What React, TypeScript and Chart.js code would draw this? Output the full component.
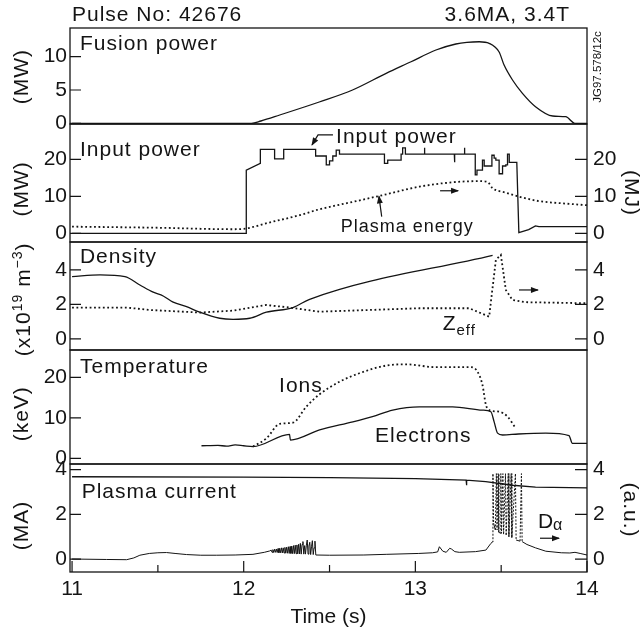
import React, { useEffect, useRef } from "react";
import { Chart, registerables } from "chart.js";

Chart.register(...registerables);

const FONT = "'Liberation Sans', Arial, Helvetica, sans-serif";
const INK = "#141414";

// ---- Pulse 42676 signals (time in s) ----
const fusionTime = [11.0, 12.045, 12.1, 12.21, 12.44, 12.634, 12.83, 12.975, 13.12, 13.236, 13.3, 13.372, 13.43, 13.488, 13.517, 13.566, 13.624, 13.7, 13.8, 13.876, 13.93, 14.0];
const fusionPower = [0, 0, 0.35, 1.25, 3.2, 5.0, 7.5, 9.24, 11.0, 11.9, 12.15, 12.24, 12.0, 10.7, 8.74, 6.5, 4.5, 2.5, 1.1, 1.0, 0, 0];

const inputTime = [
  11.0, 12.015, 12.015, 12.097, 12.097, 12.18, 12.18, 12.233, 12.233, 12.419,
  12.419, 12.481, 12.481, 12.5, 12.5, 12.519, 12.519, 12.539, 12.539, 12.558,
  12.558, 12.82, 12.82, 12.839, 12.839, 12.917, 12.917, 12.926, 12.926, 12.942,
  12.942, 13.052, 13.052, 13.055, 13.055, 13.227, 13.227, 13.23, 13.23, 13.285,
  13.285, 13.288, 13.288, 13.349, 13.349, 13.359, 13.359, 13.391, 13.391, 13.401,
  13.401, 13.446, 13.446, 13.459, 13.459, 13.469, 13.469, 13.488, 13.488, 13.508,
  13.508, 13.527, 13.527, 13.537, 13.537, 13.547, 13.547, 13.591, 13.603, 13.66,
  13.7, 13.72, 14.0,
];
const inputPower = [
  0, 0, 17.1, 18.9, 22.7, 22.7, 20.1, 20.1, 22.7, 22.7,
  20.9, 20.9, 18.5, 18.5, 19.6, 19.6, 20.9, 20.9, 22.5, 22.5,
  21.4, 21.4, 18.9, 18.9, 19.8, 19.8, 21.4, 21.4, 23.1, 23.1,
  21.4, 21.4, 23.1, 23.1, 21.4, 21.4, 19.2, 19.2, 21.4, 21.4,
  23.1, 23.1, 21.4, 21.4, 15.8, 15.8, 17.1, 17.1, 19.8, 19.8,
  18.2, 18.2, 21.1, 21.1, 20.3, 20.3, 19.8, 19.8, 16.1, 16.1,
  18.2, 18.2, 18.5, 18.5, 21.4, 21.4, 19.2, 19.2, 0.2, 1.0,
  2.0, 1.8, 1.8,
];

const energyTime = [11.0, 11.5, 11.94, 12.015, 12.13, 12.326, 12.442, 12.636, 12.79, 13.023, 13.217, 13.372, 13.42, 13.45, 13.527, 13.605, 13.721, 13.857, 14.0];
const plasmaEnergy = [1.8, 1.5, 1.1, 1.3, 2.7, 4.9, 6.5, 8.5, 10.1, 12.6, 13.8, 14.1, 13.9, 12.2, 11.0, 9.9, 8.7, 8.1, 7.6];

const densityTime = [11.0, 11.163, 11.308, 11.395, 11.473, 11.531, 11.589, 11.667, 11.744, 11.86, 11.938, 12.035, 12.132, 12.287, 12.384, 13.45];
const density = [3.61, 3.71, 3.61, 3.13, 2.71, 2.49, 2.13, 1.87, 1.55, 1.2, 1.14, 1.2, 1.55, 1.82, 2.3, 4.85];

const zeffTime = [11.0, 11.318, 11.453, 11.744, 11.938, 12.132, 12.267, 12.442, 13.023, 13.314, 13.43, 13.469, 13.498, 13.508, 13.527, 13.566, 13.643, 14.0];
const zeff = [1.82, 1.82, 1.68, 1.53, 1.64, 1.97, 1.82, 1.58, 1.78, 1.78, 1.29, 4.58, 4.87, 4.19, 2.84, 2.26, 2.13, 2.07];

const electronTime = [11.754, 11.85, 11.9, 11.95, 12.0, 12.054, 12.267, 12.272, 12.442, 12.636, 12.75, 12.868, 13.023, 13.217, 13.391, 13.44, 13.459, 13.479, 13.508, 13.6, 13.76, 13.895, 13.915, 14.0];
const electronTemp = [3.1, 3.2, 3.0, 3.3, 3.1, 2.9, 5.9, 4.5, 7.0, 9.0, 10.3, 11.9, 12.7, 12.7, 11.9, 11.5, 9.0, 6.2, 5.75, 6.0, 6.2, 5.6, 3.7, 3.7];

const ionTime = [12.054, 12.132, 12.209, 12.287, 12.364, 12.442, 12.558, 12.674, 12.83, 12.946, 13.12, 13.324, 13.362, 13.391, 13.411, 13.43, 13.488, 13.537, 13.585];
const ionTemp = [2.9, 4.9, 8.5, 8.8, 12.7, 15.8, 18.9, 21.0, 22.9, 23.2, 22.5, 22.5, 21.4, 18.1, 13.2, 11.9, 11.5, 10.3, 7.4];

const currentTime = [11.0, 12.0, 12.5, 13.0, 13.296, 13.297, 13.299, 13.3, 13.41, 13.566, 13.7, 14.0];
const plasmaCurrent = [3.68, 3.66, 3.64, 3.6, 3.53, 3.3, 3.3, 3.53, 3.46, 3.3, 3.22, 3.18];

const dalphaTime = [
  11.0, 11.2, 11.318, 11.36, 11.395, 11.45, 11.5, 11.55, 11.6, 11.667, 11.75, 11.84, 11.95, 12.054, 12.12, 12.151,
  12.16, 12.165, 12.17, 12.175, 12.18, 12.185, 12.19, 12.195, 12.2, 12.205, 12.21, 12.215, 12.22, 12.225, 12.23, 12.235,
  12.24, 12.245, 12.25, 12.255, 12.26, 12.265, 12.27, 12.275, 12.28, 12.285, 12.29, 12.295, 12.3, 12.305, 12.31, 12.315,
  12.32, 12.325, 12.33, 12.335, 12.34, 12.345, 12.35, 12.355, 12.36, 12.365, 12.37, 12.375, 12.38, 12.385, 12.39, 12.395,
  12.4, 12.405, 12.41, 12.415, 12.42,
  12.5, 12.7, 12.83, 13.02, 13.1, 13.13, 13.14, 13.16, 13.18, 13.2, 13.21, 13.23, 13.256, 13.35, 13.411, 13.44, 13.448,
  13.452, 13.456, 13.466, 13.472, 13.476, 13.482, 13.486, 13.496, 13.498, 13.502, 13.51, 13.514, 13.525, 13.529, 13.541, 13.545, 13.558, 13.562, 13.583, 13.587, 13.61, 13.618, 13.622,
  13.65, 13.7, 13.76, 13.85, 13.9, 13.93, 13.96, 14.0,
];
const dalpha = [
  0.0, -0.02, -0.03, 0.05, 0.17, 0.25, 0.28, 0.29, 0.25, 0.2, 0.17, 0.17, 0.18, 0.21, 0.3, 0.36,
  0.4, 0.3, 0.42, 0.29, 0.44, 0.3, 0.45, 0.29, 0.47, 0.28, 0.48, 0.28, 0.5, 0.27, 0.5, 0.27,
  0.52, 0.26, 0.53, 0.26, 0.55, 0.25, 0.56, 0.25, 0.58, 0.24, 0.6, 0.24, 0.62, 0.24, 0.63, 0.23,
  0.66, 0.23, 0.7, 0.22, 0.65, 0.78, 0.22, 0.6, 0.22, 0.62, 0.85, 0.22, 0.58, 0.75, 0.2, 0.55,
  0.82, 0.2, 0.5, 0.8, 0.18,
  0.17, 0.18, 0.21, 0.25, 0.28, 0.32, 0.55, 0.35, 0.3, 0.48, 0.45, 0.33, 0.3, 0.33, 0.4, 0.7, 0.76,
  3.82, 1.6, 1.3, 3.82, 1.3, 3.82, 1.2, 1.15, 3.82, 1.15, 3.82, 1.1, 3.82, 1.05, 3.82, 1.0, 3.82, 0.95, 3.82, 0.85, 0.8, 3.82, 0.78,
  0.65, 0.5, 0.35, 0.28, 0.27, 0.3, 0.25, 0.18,
];

// ---- Tick values ----
const fusionTicks = [0, 5, 10];
const powerTicks = [0, 10, 20];
const energyTicks = [0, 10, 20];
const densityTicks = [0, 2, 4];
const zeffTicks = [0, 2, 4];
const tempTicks = [0, 10, 20];
const currentTicks = [0, 2, 4];
const dalphaTicks = [0, 2, 4];
const timeTicks = [11, 12, 13, 14];
const timeMinorTicks = [11.5, 12.5, 13.5];

type Panel = {
  left: string;
  right: string;
  min: number;
  max: number;
  height: number;
  ticks: number[];
  rightTicks: number[] | null;
  title: string;
  titleAt: number;
};

const panels: Panel[] = [
  { left: "yFus", right: "rFus", min: -0.1, max: 14.3, height: 96, ticks: fusionTicks, rightTicks: null, title: "(MW)", titleAt: 7 },
  { left: "yPow", right: "rPow", min: -2.35, max: 29.55, height: 118, ticks: powerTicks, rightTicks: energyTicks, title: "(MW)", titleAt: 12 },
  { left: "yDen", right: "rDen", min: -0.64, max: 5.62, height: 108, ticks: densityTicks, rightTicks: zeffTicks, title: "", titleAt: 2.3 },
  { left: "yTem", right: "rTem", min: -1.41, max: 26.74, height: 114, ticks: tempTicks, rightTicks: null, title: "(keV)", titleAt: 11 },
  { left: "yCur", right: "rCur", min: -0.58, max: 4.25, height: 108, ticks: currentTicks, rightTicks: dalphaTicks, title: "(MA)", titleAt: 1.5 },
];

function series(xs: number[], ys: number[], yAxisID: string, dotted: boolean, smooth: boolean, width = 1.3) {
  return {
    data: xs.map((x, i) => ({ x, y: ys[i] })),
    xAxisID: "x",
    yAxisID,
    borderColor: INK,
    borderWidth: dotted ? 1.8 : width,
    borderDash: dotted ? [1.8, 2.6] : [],
    pointRadius: 0,
    fill: false,
    tension: 0,
    cubicInterpolationMode: smooth ? "monotone" : "default",
  };
}

// D-alpha trace: the tall ELM spikes are drawn finely dotted
function dalphaSeries() {
  const s: any = series(dalphaTime, dalpha, "rCur", false, false, 1);
  s.segment = {
    borderDash: (c: any) => (Math.abs(c.p1.parsed.y - c.p0.parsed.y) > 1 ? [2, 1.5] : undefined),
  };
  return s;
}

const decorations = {
  id: "decorations",
  afterDraw(chart: any) {
    const { ctx, chartArea: a, scales } = chart;
    const px = (t: number) => scales.x.getPixelForValue(t);
    const py = (id: string, v: number) => scales[id].getPixelForValue(v);

    ctx.save();
    ctx.strokeStyle = INK;
    ctx.fillStyle = INK;

    // panel frames
    ctx.lineWidth = 1.3;
    for (const p of panels) {
      const s = scales[p.left];
      ctx.strokeRect(a.left, s.top, a.right - a.left, s.bottom - s.top);
    }

    // inward tick marks
    ctx.lineWidth = 1.2;
    ctx.beginPath();
    for (const p of panels) {
      for (const v of p.ticks) {
        const y = py(p.left, v);
        ctx.moveTo(a.left, y);
        ctx.lineTo(a.left + 11, y);
      }
      if (p.rightTicks) {
        for (const v of p.rightTicks) {
          const y = py(p.right, v);
          ctx.moveTo(a.right - 12, y);
          ctx.lineTo(a.right, y);
        }
      }
    }
    for (const t of timeTicks) {
      const x = px(t);
      ctx.moveTo(x, a.bottom);
      ctx.lineTo(x, a.bottom - 11);
    }
    for (const t of timeMinorTicks) {
      const x = px(t);
      ctx.moveTo(x, a.bottom);
      ctx.lineTo(x, a.bottom - 7);
    }
    ctx.stroke();

    const text = (str: string, x: number, y: number, size = 21, align: CanvasTextAlign = "left") => {
      ctx.font = `${size}px ${FONT}`;
      (ctx as any).letterSpacing = "1px";
      ctx.textAlign = align;
      ctx.textBaseline = "alphabetic";
      ctx.fillText(str, x, y);
      return ctx.measureText(str).width;
    };
    const rotated = (str: string, x: number, y: number, angle: number, size = 21, spacing = "1px") => {
      ctx.save();
      ctx.translate(x, y);
      ctx.rotate(angle);
      ctx.font = `${size}px ${FONT}`;
      (ctx as any).letterSpacing = spacing;
      ctx.textAlign = "center";
      ctx.textBaseline = "middle";
      ctx.fillText(str, 0, 0);
      ctx.restore();
    };
    const arrow = (pts: [number, number][]) => {
      ctx.lineWidth = 1.2;
      ctx.beginPath();
      ctx.moveTo(pts[0][0], pts[0][1]);
      for (let i = 1; i < pts.length; i++) ctx.lineTo(pts[i][0], pts[i][1]);
      ctx.stroke();
      const [x1, y1] = pts[pts.length - 2];
      const [x2, y2] = pts[pts.length - 1];
      const ang = Math.atan2(y2 - y1, x2 - x1);
      const c = Math.cos(ang), s = Math.sin(ang);
      ctx.beginPath();
      ctx.moveTo(x2 + c, y2 + s);
      ctx.lineTo(x2 - 7 * c + 3 * s, y2 - 7 * s - 3 * c);
      ctx.lineTo(x2 - 7 * c - 3 * s, y2 - 7 * s + 3 * c);
      ctx.closePath();
      ctx.fill();
    };

    // header
    text("Pulse No: 42676", a.left + 2, a.top - 7.3);
    text("3.6MA, 3.4T", a.right - 17, a.top - 7.3, 21, "right");
    const fus = scales.yFus;
    rotated("JG97.578/12c", a.right + 11, (fus.top + fus.bottom) / 2 - 9, -Math.PI / 2, 11.5, "0px");

    // panel names
    text("Fusion power", px(11.046), py("yFus", 11.0));
    text("Input power", px(11.046), py("yPow", 21.0));
    text("Density", px(11.046), py("yDen", 4.39));
    text("Temperature", px(11.046), py("yTem", 21.0));
    text("Plasma current", px(11.056), py("yCur", 2.72));

    // input power / plasma energy annotations
    text("Input power", px(12.538), py("yPow", 24.5));
    arrow([[px(12.52), py("yPow", 26.6)], [px(12.433), py("yPow", 26.6)], [px(12.398), py("yPow", 23.9)]]);
    text("Plasma energy", px(12.565), py("yPow", 0.43), 18);
    arrow([[px(12.804), py("yPow", 4.5)], [px(12.788), py("yPow", 10.0)]]);
    arrow([[px(13.144), py("rPow", 11.5)], [px(13.249), py("rPow", 11.5)]]);

    // Zeff
    const zx = px(13.159);
    const zy = py("rDen", 0.52);
    const zw = text("Z", zx, zy);
    text("eff", zx + zw, zy + 5, 15);
    arrow([[px(13.604), py("rDen", 2.84)], [px(13.714), py("rDen", 2.84)]]);

    // temperature labels
    text("Ions", px(12.206), py("yTem", 16.4));
    text("Electrons", px(12.765), py("yTem", 3.95));

    // D-alpha
    const dx = px(13.714);
    const dy = py("rCur", 1.37);
    const dw = text("D", dx, dy);
    text("α", dx + dw - 1, dy + 2, 16);
    arrow([[px(13.726), py("rCur", 0.93)], [px(13.837), py("rCur", 0.93)]]);

    // axis titles
    for (const p of panels) {
      if (p.title) rotated(p.title, 22.5, py(p.left, p.titleAt), -Math.PI / 2);
    }
    // density units with superscripts
    {
      const cy = py("yDen", 2.3);
      const parts = [
        { t: "(x10", size: 21, up: 0 },
        { t: "19", size: 14, up: 8 },
        { t: " m", size: 21, up: 0 },
        { t: "\u22123", size: 14, up: 8 },
        { t: ")", size: 21, up: 0 },
      ];
      (ctx as any).letterSpacing = "1px";
      let total = 0;
      const widths = parts.map((q) => {
        ctx.font = `${q.size}px ${FONT}`;
        const w = ctx.measureText(q.t).width;
        total += w;
        return w;
      });
      ctx.save();
      ctx.translate(22.5, cy);
      ctx.rotate(-Math.PI / 2);
      ctx.textAlign = "left";
      ctx.textBaseline = "alphabetic";
      let x = -total / 2;
      parts.forEach((q, i) => {
        ctx.font = `${q.size}px ${FONT}`;
        ctx.fillText(q.t, x, 7.5 - q.up);
        x += widths[i];
      });
      ctx.restore();
    }
    rotated("(MJ)", 631, py("rPow", 10.9), Math.PI / 2);
    rotated("(a.u.)", 630, py("rCur", 2.19), Math.PI / 2);

    (ctx as any).letterSpacing = "0px";
    ctx.restore();
  },
};

export default function App() {
  const ref = useRef<HTMLCanvasElement>(null);

  useEffect(() => {
    if (!ref.current) return;

    const scales: any = {
      x: {
        type: "linear",
        position: "bottom",
        min: 10.988,
        max: 14,
        grid: { display: false, drawTicks: false },
        border: { display: false },
        ticks: { autoSkip: false, maxRotation: 0, padding: 5, color: INK, font: { size: 21, family: FONT } },
        afterBuildTicks: (s: any) => {
          s.ticks = timeTicks.map((value) => ({ value }));
        },
        afterFit: (s: any) => {
          s.height = 65;
        },
        title: { display: true, text: "Time (s)", color: INK, font: { size: 21, family: FONT }, padding: { top: 0, bottom: 7 } },
      },
    };

    panels.forEach((p, i) => {
      scales[p.left] = {
        type: "linear",
        position: "left",
        stack: "leftStack",
        stackWeight: p.height,
        weight: panels.length - i,
        min: p.min,
        max: p.max,
        grid: { display: false, drawTicks: false },
        border: { display: false },
        ticks: { autoSkip: false, padding: 3, color: INK, font: { size: 21, family: FONT } },
        afterBuildTicks: (s: any) => {
          s.ticks = p.ticks.map((value) => ({ value }));
        },
        afterFit: (s: any) => {
          s.width = 70;
        },
      };
      scales[p.right] = {
        type: "linear",
        position: "right",
        stack: "rightStack",
        stackWeight: p.height,
        weight: i + 1,
        min: p.min,
        max: p.max,
        grid: { display: false, drawTicks: false },
        border: { display: false },
        ticks: { display: !!p.rightTicks, autoSkip: false, padding: 6, color: INK, font: { size: 21, family: FONT } },
        afterBuildTicks: (s: any) => {
          if (p.rightTicks) s.ticks = p.rightTicks.map((value) => ({ value }));
        },
        afterFit: (s: any) => {
          s.width = 53;
        },
      };
    });

    const chart = new Chart(ref.current, {
      type: "line",
      data: {
        datasets: [
          series(fusionTime, fusionPower, "yFus", false, true),
          series(inputTime, inputPower, "yPow", false, false),
          series(energyTime, plasmaEnergy, "rPow", true, true),
          series(densityTime, density, "yDen", false, true),
          series(zeffTime, zeff, "rDen", true, false),
          series(ionTime, ionTemp, "yTem", true, true),
          series(electronTime, electronTemp, "yTem", false, true),
          series(currentTime, plasmaCurrent, "yCur", false, false),
          dalphaSeries(),
        ] as any,
      },
      options: {
        responsive: false,
        animation: false,
        devicePixelRatio: 1,
        layout: { padding: { top: 28, left: 0, right: 0, bottom: 0 } },
        plugins: {
          legend: { display: false },
          tooltip: { enabled: false },
          title: { display: false },
        },
        scales,
      } as any,
      plugins: [decorations],
    });

    return () => chart.destroy();
  }, []);

  return (
    <div style={{ position: "fixed", left: 0, top: 0, width: 640, height: 637, background: "#fff" }}>
      <canvas ref={ref} width={640} height={637} style={{ display: "block", width: 640, height: 637 }} />
    </div>
  );
}
